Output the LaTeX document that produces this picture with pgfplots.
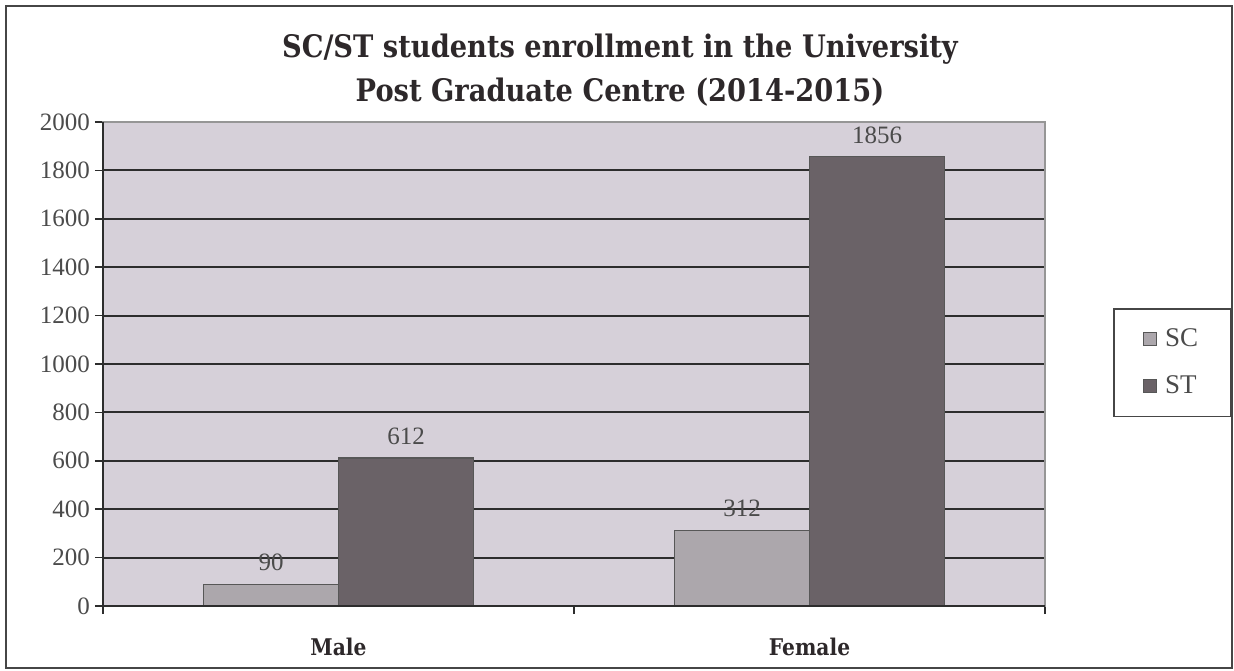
\documentclass[border=0pt]{standalone}
\usepackage{fontspec}
\setmainfont{Liberation Serif}
\newfontfamily\slab[FakeStretch=0.88]{DejaVu Serif}
\usepackage{pgfplots}
\pgfplotsset{compat=1.18}

\definecolor{plotbg}{RGB}{214,208,217}
\definecolor{scfill}{RGB}{172,167,172}
\definecolor{stfill}{RGB}{106,98,103}
\definecolor{gridc}{RGB}{45,45,45}
\definecolor{boxc}{RGB}{150,150,150}
\definecolor{framec}{RGB}{70,70,70}
\definecolor{txt}{RGB}{75,75,75}
\definecolor{ttl}{RGB}{45,40,42}

\begin{document}
\begin{tikzpicture}
% page area (1px = 0.5pt)
\path[use as bounding box] (-51.5pt,-32pt) rectangle (565.5pt,303pt);
\begin{axis}[
  scale only axis, width=471pt, height=242pt, clip=false,
  xmin=-0.5, xmax=1.5, ymin=0, ymax=2000,
  ybar=0pt, bar width=67.5pt,
  axis background/.style={fill=plotbg},
  axis line style={draw=boxc, line width=0.9pt},
  ytick={0,200,...,2000},
  xtick={-0.5,0.5,1.5}, xticklabels={,,},
  tick pos=left, tick align=outside, major tick length=4pt,
  tick style={draw=gridc, line width=0.8pt},
  ymajorgrids, major grid style={draw=gridc, line width=1pt},
  /pgf/number format/.cd, 1000 sep={}, assume math mode=true, /pgfplots/.cd,
  yticklabel style={font=\fontsize{12.5}{14}\selectfont, color=txt, xshift=1pt},
  nodes near coords,
  nodes near coords style={font=\fontsize{12.5}{14}\selectfont, color=txt, yshift=3pt},
  legend image code/.code={\draw[#1] (0pt,-3.3pt) rectangle (6.6pt,3.3pt);},
  legend cell align=left,
  legend style={at={(1.0722,0.6157)}, anchor=north west, draw=framec,
    line width=0.8pt, inner xsep=14.5pt, inner ysep=8pt, row sep=9pt, column sep=2pt,
    font=\fontsize{13.5}{15}\selectfont, text=txt},
]
\addplot[fill=scfill, draw=gridc!80, line width=0.6pt] coordinates {(0,90) (1,312)};
\addlegendentry{SC}
\addplot[fill=stfill, draw=gridc!80, line width=0.6pt] coordinates {(0,612) (1,1856)};
\addlegendentry{ST}
\draw[boxc, line width=0.9pt] (rel axis cs:0,1) -- (rel axis cs:1,1) -- (rel axis cs:1,0);
\draw[gridc, line width=1pt] (rel axis cs:0,1) -- (rel axis cs:0,0) -- (rel axis cs:1,0);
\node[anchor=base, font=\slab\bfseries\fontsize{11.5}{13}\selectfont, text=ttl] at ([yshift=-24.5pt]axis cs:0,0) {Male};
\node[anchor=base, font=\slab\bfseries\fontsize{11.5}{13}\selectfont, text=ttl] at ([yshift=-24.5pt]axis cs:1,0) {Female};
\end{axis}
\node[anchor=base, font=\slab\bfseries\fontsize{15.5}{18}\selectfont, text=ttl] at (258.5pt,274pt) {SC/ST students enrollment in the University};
\node[anchor=base, font=\slab\bfseries\fontsize{15.5}{18}\selectfont, text=ttl] at (258.5pt,252pt) {Post Graduate Centre (2014-2015)};
\draw[framec, line width=1.2pt] (-48.5pt,-31pt) rectangle (564.5pt,300pt);
\end{tikzpicture}
\end{document}
